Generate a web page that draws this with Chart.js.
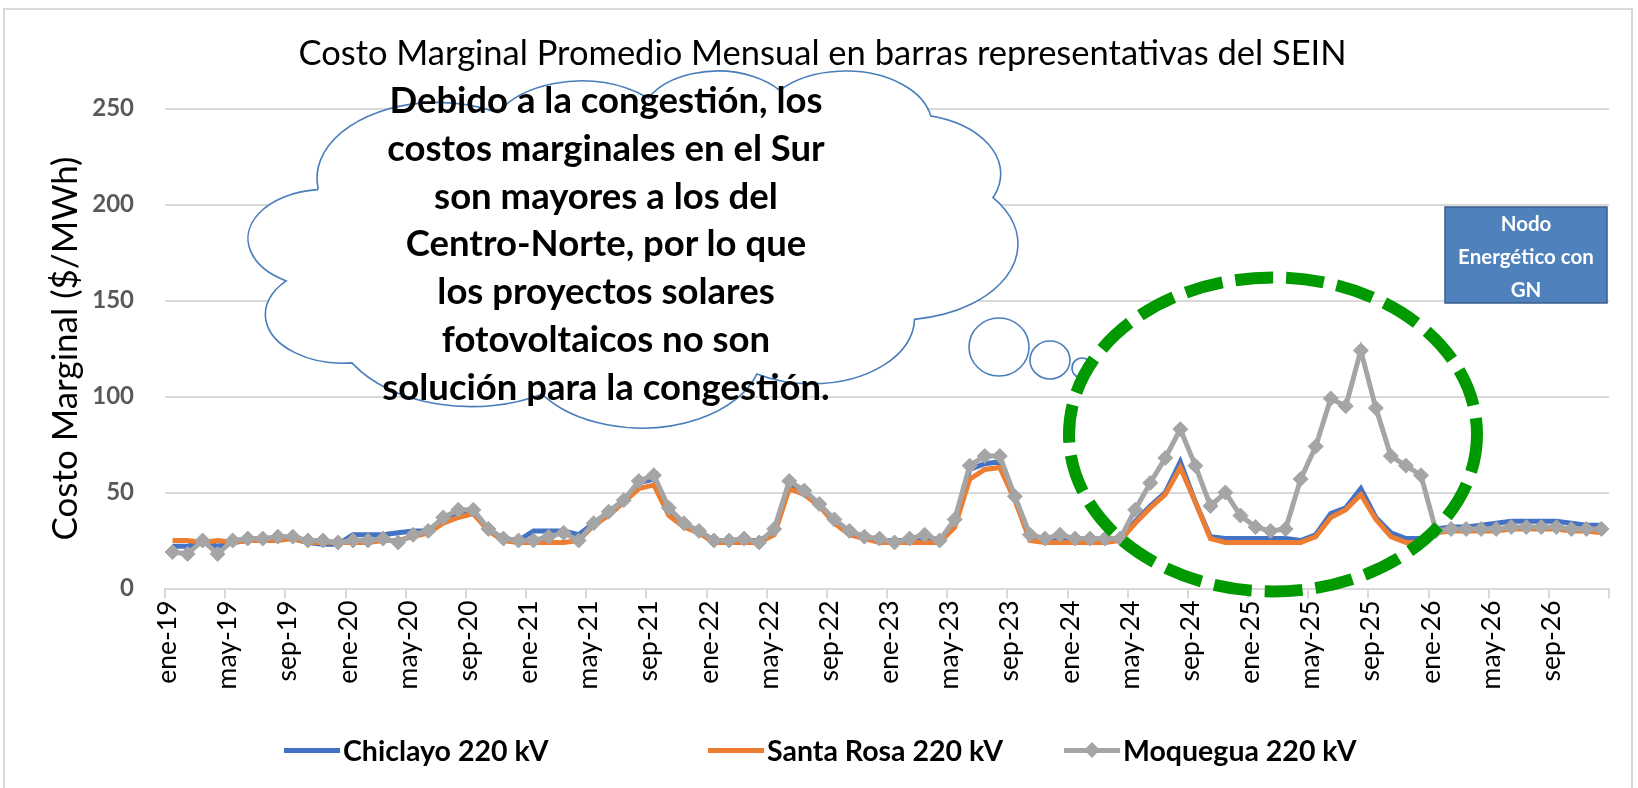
<!DOCTYPE html>
<html>
<head>
<meta charset="utf-8">
<script src="https://cdn.jsdelivr.net/npm/chart.js@4.4.1/dist/chart.umd.min.js"></script>
<style>
  html, body { margin: 0; padding: 0; background: #fff; }
  #wrap { position: relative; width: 1638px; height: 788px; overflow: hidden; background: #fff; font-family: Lato, "Open Sans", sans-serif; }
  #frame { position: absolute; left: 3px; top: 8px; width: 1630px; height: 800px; border: 2px solid #d9d9d9; box-sizing: border-box; }
  canvas { position: absolute; left: 0; top: 0; }
  #cloudText { position: absolute; left: 306px; top: 76px; width: 600px; text-align: center; font-weight: 700; font-size: 36.5px; line-height: 47.8px; color: #000; }
  #box { position: absolute; left: 1445px; top: 207px; width: 162px; height: 96px; text-align: center; color: #fff; font-weight: 700; font-size: 20.5px; line-height: 33px; }
  .lg { position: absolute; top: 733px; height: 34px; display: flex; align-items: center; font-weight: 700; font-size: 28.5px; color: #000; white-space: nowrap; }
  .lg .sw { position: relative; width: 56px; height: 34px; margin-right: 3px; }
  .lg .ln { position: absolute; left: 0; right: 0; top: 14.5px; height: 5px; }
  .lg .dm { position: absolute; left: 21px; top: 10px; width: 14px; height: 14px; transform: rotate(45deg) scale(0.8); }
</style>
</head>
<body>
<div id="wrap">
  <div id="frame"></div>
  <canvas id="c" width="1638" height="788"></canvas>
  <div id="cloudText"></div>
  <div id="box"></div>
  <div id="legend"></div>
</div>
<script>
// ---------------- DATA ----------------
const monthNames = ['ene','feb','mar','abr','may','jun','jul','ago','sep','oct','nov','dic'];
const yearNames = ['19','20','21','22','23','24','25','26'];
const categories = yearNames.flatMap(y => monthNames.map(m => m + '-' + y));

const seriesNames = ['Chiclayo 220 kV', 'Santa Rosa 220 kV', 'Moquegua 220 kV'];

const chiclayo = [
  22,22,24,22,24,25,25,26,26,24,23,23,
  28,28,28,29,30,30,36,40,40,31,26,25,
  30,30,30,28,34,40,46,55,57,41,33,30,
  25,25,25,25,29,54,50,44,35,29,27,25,
  25,25,26,25,34,62,65,66,47,27,25,25,
  25,25,25,25,35,43,50,66,45,27,26,26,
  26,26,26,25,28,39,42,52,37,29,26,26,
  31,32,32,33,34,35,35,35,35,34,33,33
];
const santaRosa = [
  25,25,24,25,24,25,25,25,26,24,24,24,
  24,24,25,25,27,29,34,37,39,30,25,24,
  24,24,24,25,33,38,45,52,54,38,32,29,
  24,24,24,24,28,52,49,43,34,28,26,24,
  24,24,24,24,32,57,62,63,46,25,24,24,
  24,24,24,25,34,42,49,63,45,26,24,24,
  24,24,24,24,27,37,41,49,36,27,24,24,
  29,30,30,30,30,31,31,31,31,30,30,29
];
const moquegua = [
  19,18,25,18,25,26,26,27,27,25,25,24,
  25,25,26,24,28,30,37,41,41,31,26,25,
  25,27,29,25,34,40,46,56,59,42,34,30,
  25,25,26,24,31,56,51,44,36,30,27,26,
  24,26,28,25,36,64,69,69,48,28,26,28,
  26,26,26,26,41,55,68,83,64,43,50,38,
  32,30,31,57,74,99,95,124,94,69,64,59,
  30,31,31,31,31,32,32,32,32,31,31,31
];
const yTicks = [0, 50, 100, 150, 200, 250];

const chartTitle = 'Costo Marginal Promedio Mensual en barras representativas del SEIN';
const yTitle = 'Costo Marginal ($/MWh)';
const cloudLines = [
  'Debido a la congestión, los',
  'costos marginales en el Sur',
  'son mayores a los del',
  'Centro-Norte, por lo que',
  'los proyectos solares',
  'fotovoltaicos no son',
  'solución para la congestión.'
];
const boxLines = ['Nodo', 'Energético con', 'GN'];

const colors = ['#4472C4', '#ED7D31', '#A5A5A5'];

// ---------------- TEXT OVERLAYS ----------------
document.getElementById('cloudText').innerHTML = cloudLines.map(t => '<div>' + t + '</div>').join('');
document.getElementById('box').innerHTML = boxLines.map(t => '<div>' + t + '</div>').join('');
const legendX = [284, 708, 1064];
document.getElementById('legend').innerHTML = seriesNames.map((n, i) =>
  '<div class="lg" style="left:' + legendX[i] + 'px"><div class="sw"><div class="ln" style="background:' + colors[i] + '"></div>' +
  (i === 2 ? '<div class="dm" style="background:' + colors[i] + '"></div>' : '') +
  '</div><span>' + n + '</span></div>').join('');

// ---------------- CLOUD SHAPE (OOXML cloud geometry) ----------------
const cloudArcs = [
  [6753, 9190, -11429249, 7426832],
  [5333, 7267, -8646143, 5396714],
  [4365, 5945, -8748475, 5983381],
  [4857, 6595, -7859164, 7034504],
  [5333, 7273, -4722533, 6541615],
  [6775, 9220, -2776035, 7816140],
  [5785, 7867, 37501, 6842000],
  [6752, 9215, 1347096, 6910353],
  [7720, 10543, 3974558, 4542661],
  [4360, 5918, -16496525, 8804134],
  [4345, 5945, -14809710, 9151131]
];
function cloudSegments() {
  let px = 3900, py = 14370;
  const segs = [];
  const toRad = a => a / 60000 * Math.PI / 180;
  for (const [wR, hR, st, sw] of cloudArcs) {
    const a1 = toRad(st), a2 = toRad(st + sw);
    const t1 = Math.atan2(Math.sin(a1) / hR, Math.cos(a1) / wR);
    let t2 = Math.atan2(Math.sin(a2) / hR, Math.cos(a2) / wR);
    let dt = t2 - t1;
    if (sw > 0 && dt < 0) dt += 2 * Math.PI;
    if (sw < 0 && dt > 0) dt -= 2 * Math.PI;
    const cx = px - wR * Math.cos(t1), cy = py - hR * Math.sin(t1);
    segs.push({cx, cy, wR, hR, t1, dt});
    px = cx + wR * Math.cos(t1 + dt);
    py = cy + hR * Math.sin(t1 + dt);
  }
  return segs;
}
const segs = cloudSegments();
let bx0 = Infinity, bx1 = -Infinity, by0 = Infinity, by1 = -Infinity;
for (const s of segs) {
  for (let k = 0; k <= 60; k++) {
    const t = s.t1 + s.dt * k / 60;
    const x = s.cx + s.wR * Math.cos(t), y = s.cy + s.hR * Math.sin(t);
    bx0 = Math.min(bx0, x); bx1 = Math.max(bx1, x); by0 = Math.min(by0, y); by1 = Math.max(by1, y);
  }
}
const cloudBox = {x0: 248, x1: 1018, y0: 71, y1: 428};

const overlayPlugin = {
  id: 'overlay',
  afterDraw(chart) {
    const ctx = chart.ctx;
    ctx.save();
    // cloud
    const sx = (cloudBox.x1 - cloudBox.x0) / (bx1 - bx0);
    const sy = (cloudBox.y1 - cloudBox.y0) / (by1 - by0);
    const X = x => cloudBox.x0 + (x - bx0) * sx;
    const Y = y => cloudBox.y0 + (y - by0) * sy;
    ctx.beginPath();
    ctx.moveTo(X(3900), Y(14370));
    for (const s of segs) {
      ctx.ellipse(X(s.cx), Y(s.cy), s.wR * sx, s.hR * sy, 0, s.t1, s.t1 + s.dt, s.dt < 0);
    }
    ctx.closePath();
    ctx.fillStyle = '#ffffff';
    ctx.fill();
    ctx.lineWidth = 1.6;
    ctx.strokeStyle = '#4a7ebb';
    ctx.stroke();
    // thought bubbles
    const bubbles = [[999, 347, 30, 29], [1050, 360, 20, 19], [1082, 368, 10, 10]];
    for (const [cx, cy, rx, ry] of bubbles) {
      ctx.beginPath();
      ctx.ellipse(cx, cy, rx, ry, 0, 0, Math.PI * 2);
      ctx.fillStyle = '#ffffff';
      ctx.fill();
      ctx.stroke();
    }
    // green dashed ellipse
    ctx.beginPath();
    ctx.ellipse(1273, 434.5, 204, 157, 0, 0, Math.PI * 2);
    ctx.setLineDash([38, 13]);
    ctx.lineWidth = 12;
    ctx.strokeStyle = '#009900';
    ctx.stroke();
    ctx.setLineDash([]);
    // blue box
    ctx.fillStyle = '#4f81bd';
    ctx.fillRect(1445, 207, 162, 96);
    ctx.lineWidth = 1.5;
    ctx.strokeStyle = '#385d8a';
    ctx.strokeRect(1445, 207, 162, 96);
    ctx.restore();
  }
};

// ---------------- CHART ----------------
const datasets = [
  {label: seriesNames[2], data: moquegua, borderColor: colors[2], backgroundColor: colors[2], borderWidth: 5,
   pointStyle: 'rectRot', pointRadius: 7.5, pointBorderWidth: 1, pointBackgroundColor: colors[2], pointBorderColor: colors[2], order: 0, tension: 0},
  {label: seriesNames[1], data: santaRosa, borderColor: colors[1], backgroundColor: colors[1], borderWidth: 5, pointRadius: 0, order: 1, tension: 0},
  {label: seriesNames[0], data: chiclayo, borderColor: colors[0], backgroundColor: colors[0], borderWidth: 5, pointRadius: 0, order: 2, tension: 0}
];

new Chart(document.getElementById('c'), {
  type: 'line',
  data: {labels: categories, datasets},
  plugins: [overlayPlugin],
  options: {
    responsive: false,
    animation: false,
    devicePixelRatio: 1,
    layout: {padding: {top: 0, left: 36, right: 29, bottom: 89.5}},
    plugins: {
      legend: {display: false},
      tooltip: {enabled: false},
      title: {
        display: true, text: chartTitle, color: '#000',
        font: {family: 'Lato', size: 34.5, weight: 'normal', lineHeight: 1.2},
        padding: {top: 33.3, bottom: 33.9}
      }
    },
    scales: {
      x: {
        type: 'category',
        offset: true,
        afterFit(scale) { scale.height = 110; },
        grid: {
          offset: true, drawOnChartArea: false, drawTicks: true, tickLength: 10, lineWidth: 2,
          color: c => (c.index === undefined || c.index % 4 === 0) ? '#d9d9d9' : 'rgba(0,0,0,0)'
        },
        border: {display: true, color: '#d9d9d9', width: 2},
        ticks: {
          autoSkip: false, maxRotation: 90, minRotation: 90, padding: 2, labelOffset: -5, color: '#000',
          font: {family: 'Lato', size: 26.5},
          callback(v, i) { return i % 4 === 0 ? this.getLabelForValue(v) : ''; }
        }
      },
      y: {
        min: 0, max: 250,
        afterFit(scale) { scale.width = 129; },
        afterBuildTicks(scale) { scale.ticks = yTicks.map(v => ({value: v})); },
        grid: {color: '#d9d9d9', lineWidth: 2, drawTicks: false},
        border: {display: false},
        ticks: {color: '#595959', padding: 31, font: {family: 'Lato', size: 24, weight: 'bold'}},
        title: {
          display: true, text: yTitle, color: '#000',
          font: {family: 'Lato', size: 35, weight: 'normal', lineHeight: 1.2},
          padding: {top: 9, bottom: 0}
        }
      }
    }
  }
});
</script>
</body>
</html>
